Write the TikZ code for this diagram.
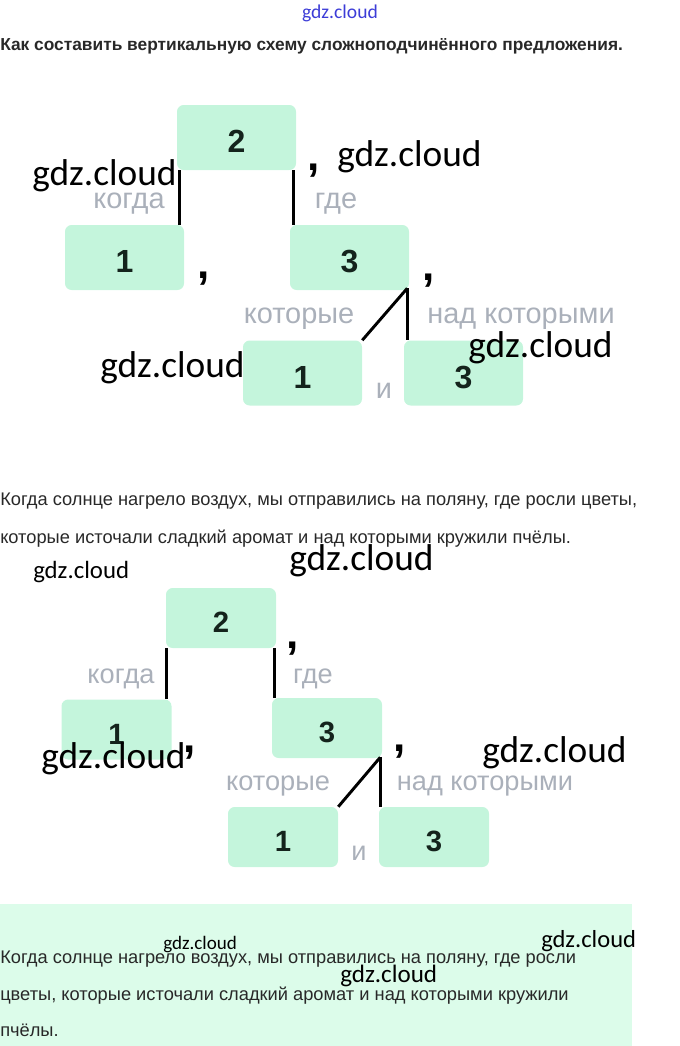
\documentclass[tikz,border=0pt]{standalone}
\usepackage{fontspec}
\setmainfont{Liberation Sans}
\newfontfamily\wmfont{Carlito}
\usetikzlibrary{calc}
\definecolor{boxg}{RGB}{196,245,220}
\definecolor{labc}{RGB}{170,176,186}
\definecolor{txt}{RGB}{40,40,40}
\definecolor{digit}{RGB}{20,35,28}
\definecolor{mint}{RGB}{220,252,234}
\definecolor{wblue}{RGB}{60,60,215}
\begin{document}
\begin{tikzpicture}[x=0.75pt,y=-0.75pt,
  box/.style={fill=boxg, rounded corners=5pt, inner sep=0pt, text=digit,
    font=\fontsize{24}{24}\selectfont\bfseries, text height=23.2pt, text depth=0pt,
    minimum width=89.25pt, minimum height=48.75pt},
  sbox/.style={box, minimum width=82.5pt, minimum height=45pt,
    font=\fontsize{22}{22}\selectfont\bfseries, text height=21.8pt},
  conn/.style={line width=2.2pt, draw=black},
  lab/.style={text=labc, inner sep=0pt, anchor=base, font=\fontsize{21.7}{21.7}\selectfont},
  slab/.style={lab, font=\fontsize{20.4}{20.4}\selectfont},
  comma/.style={inner sep=0pt, anchor=base, font=\fontsize{33}{33}\selectfont\bfseries, text=black},
  wmk/.style={inner sep=0pt, anchor=base west, text=black},
  para/.style={inner sep=0pt, anchor=base west, text=txt, font=\fontsize{13.7}{13.7}\selectfont},
]
\useasboundingbox (0,0) rectangle (680,1046);
\fill[mint] (0,904) rectangle (632,1046);

% header
\node[inner sep=0pt, anchor=base, text=wblue, font=\wmfont\fontsize{14.7}{14.7}\selectfont] (wtop) at (340,18) {gdz.cloud};
\node[para, font=\fontsize{13}{13}\selectfont\bfseries] (title) at (0,50) {Как составить вертикальную схему сложноподчинённого предложения.};

% first diagram
\node[box] (a2) at (236.5,137.5) {2};
\node[box] (a1) at (124.5,257.5) {1};
\node[box] (a3) at (349.5,257.5) {3};
\node[box] (a1b) at (302.5,373) {1};
\node[box] (a3b) at (463.5,373) {3};
\coordinate (p1) at ([xshift=2.25pt]a2.south west);
\coordinate (p2) at ([xshift=-2.25pt]a2.south east);
\coordinate (p3) at ([xshift=-1.5pt,yshift=1.5pt]a3.south east);
\draw[conn] (p1) -- (p1 |- a1.north);
\draw[conn] (p2) -- (p2 |- a3.north);
\draw[conn] (p3) -- (a1b.north east);
\draw[conn] (p3) -- (p3 |- a3b.north);
\node[lab] (la1) at (129,208) {когда};
\node[lab] (la2) at (336,208) {где};
\node[lab] (la3) at (299,323) {которые};
\node[lab] (la4) at (521,323) {над которыми};
\node[lab] (la5) at (384,398) {и};
\node[comma] (ca1) at (314,170) {,};
\node[comma] (ca2) at (204,278) {,};
\node[comma] (ca3) at (429,280) {,};

% text 1
\node[para] (t1) at (0,505) {Когда солнце нагрело воздух, мы отправились на поляну, где росли цветы,};
\node[para] (t2) at (0,543) {которые источали сладкий аромат и над которыми кружили пчёлы.};

% second diagram
\node[sbox] (b2) at (221,618) {2};
\node[sbox] (b1) at (116.5,729.5) {1};
\node[sbox] (b3) at (327,728) {3};
\node[sbox] (b1b) at (283,837) {1};
\node[sbox] (b3b) at (434,837) {3};
\coordinate (q1) at ([xshift=0.75pt]b2.south west);
\coordinate (q2) at ([xshift=-1.5pt]b2.south east);
\coordinate (q3) at ([xshift=-1.5pt,yshift=0.75pt]b3.south east);
\draw[conn] (q1) -- (q1 |- b1.north);
\draw[conn] (q2) -- (q2 |- b3.north);
\draw[conn] (q3) -- (b1b.north east);
\draw[conn] (q3) -- (q3 |- b3b.north);
\node[slab] (lb1) at (121,683) {когда};
\node[slab] (lb2) at (313,683) {где};
\node[slab] (lb3) at (278,790) {которые};
\node[slab] (lb4) at (485,790) {над которыми};
\node[slab] (lb5) at (359,860) {и};
\node[comma] (cb1) at (293,648) {,};
\node[comma] (cb2) at (190,752) {,};
\node[comma] (cb3) at (400,751) {,};

% text 2
\node[para] (s1) at (0,963) {Когда солнце нагрело воздух, мы отправились на поляну, где росли};
\node[para] (s2) at (0,1000) {цветы, которые источали сладкий аромат и над которыми кружили};
\node[para] (s3) at (0,1036) {пчёлы.};

% watermarks
\node[wmk, font=\wmfont\fontsize{28}{28}\selectfont] (w1) at (32,185) {gdz.cloud};
\node[wmk, font=\wmfont\fontsize{28}{28}\selectfont] (w2) at (337,166) {gdz.cloud};
\node[wmk, font=\wmfont\fontsize{28}{28}\selectfont] (w3) at (100,377) {gdz.cloud};
\node[wmk, font=\wmfont\fontsize{28}{28}\selectfont] (w4) at (468,357) {gdz.cloud};
\node[wmk, font=\wmfont\fontsize{18.6}{18.6}\selectfont] (w5) at (33,578) {gdz.cloud};
\node[wmk, font=\wmfont\fontsize{28}{28}\selectfont] (w6) at (289,570) {gdz.cloud};
\node[wmk, font=\wmfont\fontsize{28}{28}\selectfont] (w7) at (41,768) {gdz.cloud};
\node[wmk, font=\wmfont\fontsize{28}{28}\selectfont] (w8) at (482,762) {gdz.cloud};
\node[wmk, font=\wmfont\fontsize{14.3}{14.3}\selectfont] (w9) at (163,949) {gdz.cloud};
\node[wmk, font=\wmfont\fontsize{18.4}{18.4}\selectfont] (w10) at (541,947) {gdz.cloud};
\node[wmk, font=\wmfont\fontsize{18.8}{18.8}\selectfont] (w11) at (340,982) {gdz.cloud};
\end{tikzpicture}
\end{document}
